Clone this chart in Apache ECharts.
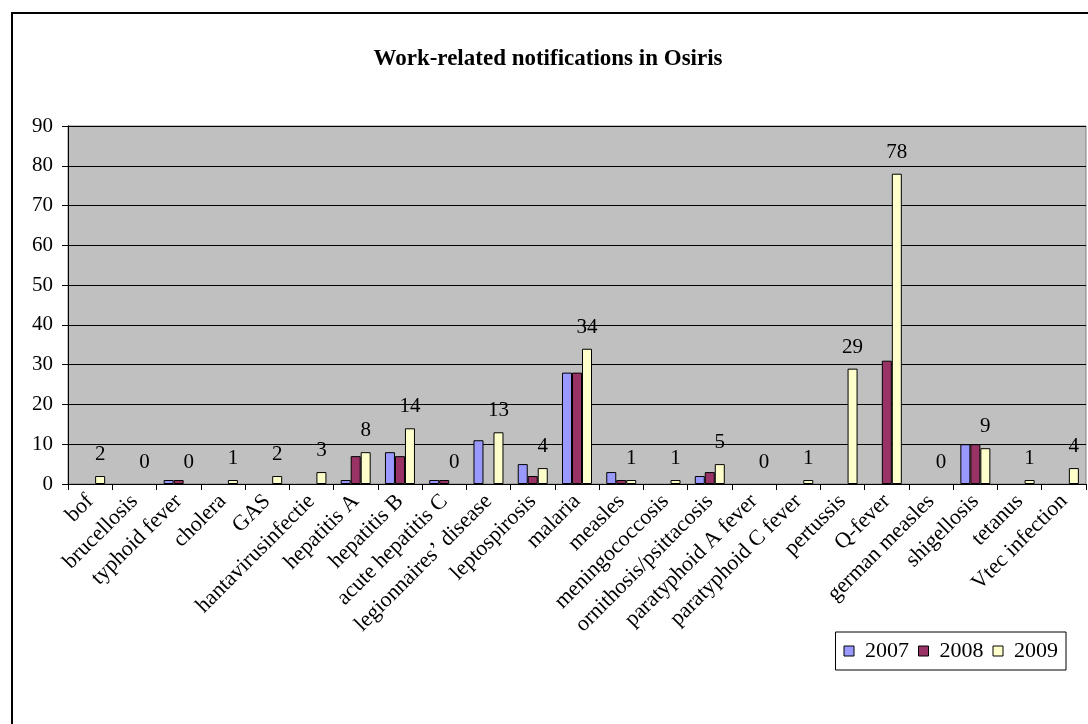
<!DOCTYPE html>
<html>
<head>
<meta charset="utf-8">
<title>Work-related notifications in Osiris</title>
<script src="https://cdn.jsdelivr.net/npm/echarts@6/dist/echarts.min.js"></script>
<style>
  html, body { margin: 0; padding: 0; background: #ffffff; }
  #chart { width: 1088px; height: 724px; }
</style>
</head>
<body>
<div id="chart"></div>
<script>
// Notified diseases (x axis)
const categories = [
  'bof', 'brucellosis', 'typhoid fever', 'cholera', 'GAS', 'hantavirusinfectie',
  'hepatitis A', 'hepatitis B', 'acute hepatitis C', 'legionnaires\u2019 disease',
  'leptospirosis', 'malaria', 'measles', 'meningococcosis', 'ornithosis/psittacosis',
  'paratyphoid A fever', 'paratyphoid C fever', 'pertussis', 'Q-fever',
  'german measles', 'shigellosis', 'tetanus', 'Vtec infection'
];

// Number of work-related notifications per year
const years = ['2007', '2008', '2009'];
const values2007 = [0, 0, 1, 0, 0, 0, 1, 8, 1, 11, 5, 28, 3, 0, 2, 0, 0, 0, 0, 0, 10, 0, 0];
const values2008 = [0, 0, 1, 0, 0, 0, 7, 7, 1, 0, 2, 28, 1, 0, 3, 0, 0, 0, 31, 0, 10, 0, 0];
const values2009 = [2, 0, 0, 1, 2, 3, 8, 14, 0, 13, 4, 34, 1, 1, 5, 0, 1, 29, 78, 0, 9, 1, 4];

// Value axis ticks
const yMin = 0;
const yMax = 90;
const yStep = 10;

const FONT = "'Liberation Serif', 'Times New Roman', serif";
const colors = ['#9999FF', '#993366', '#FFFFCC'];

const chart = echarts.init(document.getElementById('chart'), null, { renderer: 'canvas' });

// Zero counts keep their value (and label) but draw no outline
function toBarData(values) {
  return values.map(function (v) {
    return v === 0 ? { value: 0, itemStyle: { borderWidth: 0, opacity: 0 } } : v;
  });
}

function barSeries(name, values, color, withLabels) {
  return {
    name: name,
    type: 'bar',
    data: toBarData(values),
    barWidth: 10,
    barGap: '0%',
    itemStyle: { color: color, borderColor: '#000000', borderWidth: 1 },
    label: withLabels ? {
      show: true,
      position: 'top',
      distance: 11,
      color: '#000000',
      fontFamily: FONT,
      fontSize: 21,
      opacity: 1
    } : { show: false },
    emphasis: { disabled: true },
    animation: false
  };
}

const option = {
  animation: false,
  backgroundColor: '#ffffff',
  textStyle: { fontFamily: FONT, color: '#000000' },
  title: {
    text: 'Work-related notifications in Osiris',
    left: 543,
    textAlign: 'center',
    top: 43,
    textStyle: { fontFamily: FONT, fontWeight: 'bold', fontSize: 23, color: '#000000' }
  },
  graphic: [{
    type: 'rect',
    shape: { x: 12, y: 13, width: 1200, height: 800 },
    style: { fill: 'none', stroke: '#000000', lineWidth: 2 },
    silent: true,
    z: 100
  }],
  legend: {
    data: years,
    right: 22,
    top: 632,
    orient: 'horizontal',
    itemWidth: 10,
    itemHeight: 10,
    itemGap: 9,
    icon: 'rect',
    padding: [8, 8],
    borderColor: '#000000',
    borderWidth: 1,
    backgroundColor: '#ffffff',
    itemStyle: { borderColor: '#000000', borderWidth: 1, opacity: 1 },
    textStyle: { fontFamily: FONT, fontSize: 22, color: '#000000', padding: [0, 0, 0, 6] }
  },
  grid: {
    left: 68,
    top: 126,
    right: 2,
    bottom: 240,
    show: true,
    backgroundColor: '#C0C0C0',
    borderColor: '#808080',
    borderWidth: 1,
    containLabel: false
  },
  xAxis: {
    type: 'category',
    data: categories,
    axisLine: { show: true, lineStyle: { color: '#000000', width: 1 } },
    axisTick: { show: true, length: 6, alignWithLabel: false, lineStyle: { color: '#000000' } },
    axisLabel: {
      rotate: 45,
      interval: 0,
      margin: 14,
      fontFamily: FONT,
      fontSize: 22,
      color: '#000000'
    },
    splitLine: { show: false }
  },
  yAxis: {
    type: 'value',
    min: yMin,
    max: yMax,
    interval: yStep,
    axisLine: { show: true, lineStyle: { color: '#000000', width: 1 } },
    axisTick: { show: true, length: 6, lineStyle: { color: '#000000' } },
    axisLabel: { margin: 15, fontFamily: FONT, fontSize: 21, color: '#000000' },
    splitLine: { show: true, lineStyle: { color: '#000000', width: 1 } }
  },
  series: [
    barSeries(years[0], values2007, colors[0], false),
    barSeries(years[1], values2008, colors[1], false),
    barSeries(years[2], values2009, colors[2], true)
  ]
};

chart.setOption(option);
</script>
</body>
</html>
